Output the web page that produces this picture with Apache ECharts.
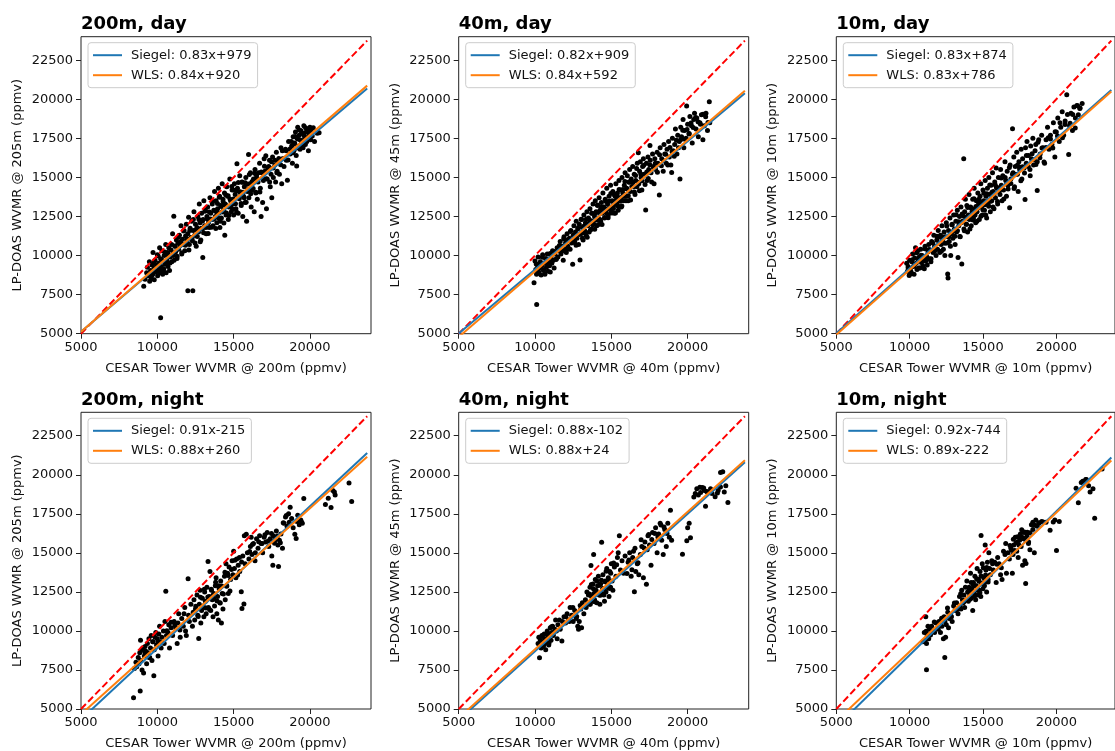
<!DOCTYPE html>
<html><head><meta charset="utf-8">
<script src="https://cdn.jsdelivr.net/npm/echarts@6/dist/echarts.min.js"></script>
<style>html,body{margin:0;padding:0;background:#fff}#c{width:1115px;height:751px}</style>
</head><body><div id="c"></div><script>
const panelTitles = ['200m, day', '40m, day', '10m, day', '200m, night', '40m, night', '10m, night'];
const xNames = ['CESAR Tower WVMR @ 200m (ppmv)', 'CESAR Tower WVMR @ 40m (ppmv)', 'CESAR Tower WVMR @ 10m (ppmv)',
  'CESAR Tower WVMR @ 200m (ppmv)', 'CESAR Tower WVMR @ 40m (ppmv)', 'CESAR Tower WVMR @ 10m (ppmv)'];
const yNames = ['LP-DOAS WVMR @ 205m (ppmv)', 'LP-DOAS WVMR @ 45m (ppmv)', 'LP-DOAS WVMR @ 10m (ppmv)',
  'LP-DOAS WVMR @ 205m (ppmv)', 'LP-DOAS WVMR @ 45m (ppmv)', 'LP-DOAS WVMR @ 10m (ppmv)'];
const siegelSlope = [0.83, 0.82, 0.83, 0.91, 0.88, 0.92];
const siegelIntercept = [979, 909, 874, -215, -102, -744];
const wlsSlope = [0.84, 0.84, 0.83, 0.88, 0.88, 0.89];
const wlsIntercept = [920, 592, 786, 260, 24, -222];
const xTicks = [5000, 10000, 15000, 20000];
const yTicks = [5000, 7500, 10000, 12500, 15000, 17500, 20000, 22500];
const axisMin = 5000, axisMax = 24000, lineEnd = 23750;

const day200 = [[9110,8040],[9200,8480],[9300,8900],[9350,9250],[9420,8700],[9480,9600],[9500,8350],[9560,9050],[9600,8550],[9650,9400],[9700,8800],[9720,10200],[9780,9150],[9800,8450],[9850,9700],[9900,8950],[9950,9350],[10000,10050],[10020,8700],[10080,9500],[10100,9100],[10150,10500],[10180,8900],[10220,9800],[10250,9300],[10300,10300],[10350,8800],[10380,9650],[10420,9150],[10450,10000],[10500,9450],[10550,10700],[10580,8900],[10620,9700],[10680,10200],[10700,9300],[10750,10500],[10800,9050],[10850,9900],[10900,10350],[10950,9600],[11000,11400],[11020,10100],[11080,12510],[11100,9700],[11150,10600],[11200,10250],[11250,11000],[11300,9950],[11350,10800],
[10217,6021],[12000,7745],[12326,7745],
[11400,10400],[11450,11300],[11500,10650],[11550,11900],[11600,10100],[11650,11050],[11700,10700],[11750,11600],[11800,10300],[11850,11250],[11900,12000],[11950,10900],[12000,11400],[12050,12450],[12100,10700],[12150,11750],[12200,11150],[12250,12200],[12300,10950],[12350,11600],[12400,12800],[12450,11300],[12500,12000],[12550,10600],[12600,11800],[12650,12500],[12700,11500],[12750,13300],[12800,12100],[12850,11000],[12900,12700],[12950,11700],[12978,9870],[13000,12300],[13050,13500],[13100,11900],[13150,12900],[13200,11400],[13250,12500],[13300,13100],[13350,12100],[13400,11800],[13450,13700],[13500,12700],
[13550,12300],[13600,13300],[13650,11900],[13700,12900],[13750,14100],[13800,12500],[13850,13500],[13900,12100],[13950,13000],[14000,14300],[14020,12700],[14080,13800],[14100,11800],[14150,13200],[14200,12400],[14250,14600],[14300,13600],[14350,12900],[14400,14000],[14420,11300],[14450,13300],[14500,12600],[14550,14400],[14600,13800],[14650,12300],[14700,13100],[14750,14900],[14800,13500],[14850,12800],[14900,14200],[14950,13300],[15000,12600],[15050,14600],[15100,13900],[15150,13000],[15217,15870],[15250,14300],[15300,12700],[15350,13700],[15400,15100],[15450,14000],[15500,13200],[15550,14700],[15600,12500],[15650,13800],[15700,14400],[15750,13400],[15800,15000],[15850,12200],[15900,14100],[15978,16468],[16000,13700],
[16050,14600],[16100,15300],[16150,13100],[16200,14200],[16300,14900],[16350,12800],[16400,15500],[16450,14000],[16500,15100],[16550,13600],[16600,14700],[16700,15900],[16750,14300],[16800,12500],[16850,15300],[16900,13400],[16950,14800],[17000,16200],[17050,15400],[17109,16380],[17150,13000],[17200,14900],[17300,15700],[17350,16100],[17400,14400],[17450,15200],[17500,13700],[17550,16300],[17600,15000],[17700,15800],[17750,14700],[17800,16600],[17850,15400],[17900,16000],[18000,15200],[18100,16900],[18150,14600],[18200,16200],[18300,15700],[18400,16800],[18450,16100],[18522,14809],[18600,17300],[18700,16500],[18800,17000],[18850,15900],
[18900,17600],[18950,16700],[19000,17200],[19050,17900],[19100,16400],[19130,15723],[19150,17500],[19200,18200],[19250,17000],[19300,17700],[19350,16800],[19400,18000],[19450,17300],[19500,17800],[19550,16900],[19600,18300],[19650,17500],[19700,17100],[19750,17900],[19800,17300],[19850,18100],[19900,16700],[19950,17600],[20000,18200],[20050,17400],[20100,17900],[20217,18170],[20300,17300],[20478,17830],[20600,17850]];
const day200b = [[11530,10905],[11610,10172],[11720,11565],[11840,10666],[11960,11066],[12070,10359],[12130,11609],[12280,11135],[12360,12302],[12470,10795],[12540,11654],[12620,11221],[12730,12313],[12810,10880],[12880,11739],[12960,12206],[13030,11465],[13120,12841],[13180,11791],[13260,12358],[13330,11417],[13410,12784],[13480,12343],[13560,11810],[13620,13461],[13690,12320],[13760,12878],[13830,11737],[13880,12779],[13940,13330],[14010,12388],[14060,13730],[14130,12189],[14180,13131],[14240,12782],[14310,13440],[14360,12082],[14430,13241],[14480,13883],[14530,12725],[14590,13176],[14640,13818],[14690,12560],[14760,13618],[14810,13160],[14880,14419],[14930,12961],[14990,13612],[15060,14170],[15120,13321],[15190,12780],[15240,14122],[15310,14680],[15370,13631],[15430,14081],[15490,13332],[15560,14690],[15620,14041],[15690,13700],[15760,14658],[15820,13409],[15890,14568],[15960,14226],[16030,15185],[16120,13961],[16210,14736],[16280,14295],[16370,15271],[16460,14046],[16540,14914],[16630,15289],[16720,14065],[16810,15340],[16920,14933],[17020,15717],[17130,14909],[17240,15602],[17360,14702],[17480,16003],[17590,15596],[17710,16096],[17830,15297],[17960,16206],[18080,15807],[18190,16700],[18320,16209],[18440,16710],[18570,16119],[18690,16820],[18780,17295],[18870,16571],[18960,17146],[19040,17614],[19120,16881],[19210,17456],[19290,18024],[19370,17391],[19460,17866],[19540,17034],[19620,17701],[19710,18176],[19780,17535],[19870,18011],[19960,17786],[20060,17970],[20150,17646],
[9640,8718],[9760,9518],[9880,9019],[10060,9970],[10170,9063],[10270,9747],[10390,9048],[10490,10232],[10610,9532],[10720,10025],[10830,9517],[10940,10710],[11060,10010],[11170,10603],[11290,9804],[11390,11188]];

const day40 = [[9935,8262],[10109,6876],[10000,9650],[10050,9100],[10100,8800],[10150,9400],[10200,9900],[10250,8950],[10300,9200],[10350,9600],[10400,8750],[10450,9350],[10500,10050],[10550,9050],[10600,9500],[10650,8800],[10700,9800],[10750,9250],[10800,10100],[10850,9000],[10900,9600],[10950,9350],[11000,8950],[11050,9900],[11100,9500],[11150,10300],[11200,9700],[11250,9200],[11300,10100],[11400,9800],[11450,10500],[11500,9900],[11550,10300],[11650,10900],[11700,10100],[11800,10600],[11850,9700],[11900,11200],[11950,10400],[12000,10800],[12050,10200],[12100,11400],[12150,10600],[12250,11100],[12300,10400],[12350,11600],[12400,10800],[12467,9435],[12500,11300],[12550,11900],[12600,10900],[12650,11500],[12700,12200],[12750,11100],[12800,11700],[12850,10700],[12900,12000],[12948,9712],[13000,11400],[13050,12300],[13100,11800],[13150,11000],[13200,12600],[13250,11600],[13300,12100],[13350,11300],[13400,12800],[13450,11900],[13500,12400],[13550,11500],[13600,13000],[13650,12200],[13700,11700],[13750,12700],[13800,13300],[13850,12000],[13900,12500],[13950,13500],[14000,12800],[14050,11900],[14100,13200],[14150,12400],[14200,13700],[14250,12900],[14300,12200],[14350,13400],[14400,12700],[14450,14000],[14500,13100],[14550,12400],[14600,13600],[14650,12900],[14700,14300],[14750,13300],[14800,12600],[14850,13800],[14900,13100],[14950,14500],[15000,12800],[15050,13500],[15100,14100],[15150,13200],[15200,12700],[15250,13800],[15300,14600],[15350,13300],[15400,14000],[15450,12900],[15500,14800],[15550,13600],[15600,14200],[15650,13100],[15700,15000],[15750,14000],[15800,13500],[15850,14500],[15900,15300],[15950,13800],[16000,14300],[16050,15100],[16100,13500],[16150,14700],[16200,15500],[16250,14100],[16300,14900],[16400,15700],[16450,14400],[16500,15200],[16550,13900],[16600,14800],[16659,15576],[16700,15900],[16768,16578],[16800,14600],[16850,15400],[16900,16000],[16950,15000],[17000,14200],[17050,15700],[17100,16200],[17150,15200],[17249,12910],[17300,15900],[17350,14800],[17400,16300],[17450,15500],[17531,17047],[17550,16100],[17600,15300],[17700,16500],[17750,15700],[17800,14600],[17850,16200],[17900,15500],[18000,16600],[18050,15900],[18144,13870],[18200,16900],[18300,16200],[18400,15400],[18450,17100],[18500,16500],[18600,15900],[18650,16800],[18750,17300],[18800,16300],[18900,15800],[18952,15320],[19000,17500],[19050,16700],[19150,17100],[19200,18100],[19300,16500],[19350,17700],[19450,17300],[19498,14893],[19550,18200],[19600,17600],[19700,18700],[19750,16900],[19800,18000],[19900,17500],[19935,19563],[20000,18400],[20100,17800],[20150,18900],[20250,18300],[20300,17200],[20400,18700],[20450,19100],[20550,18100],[20600,18800],[20700,17600],[20800,18500],[20900,19000],[21000,17400],[21100,18300],[21200,19100],[21300,18000],[21419,19840],[21450,18500]];
const day40b = [[12020,10989],[12180,10423],[12320,11541],[12440,10842],[12580,11159],[12690,10652],[12820,11761],[12930,11353],[13020,12329],[13110,11104],[13190,11872],[13270,11439],[13360,12314],[13420,11165],[13490,12024],[13570,12291],[13630,11641],[13710,12708],[13780,11967],[13840,12218],[13910,11676],[13970,12727],[14030,12277],[14090,13228],[14160,11986],[14220,12737],[14280,12287],[14330,13129],[14390,11980],[14460,12838],[14520,13089],[14570,12431],[14630,13481],[14680,12723],[14740,12974],[14790,12416],[14860,13474],[14920,13025],[14970,13967],[15030,12717],[15080,13459],[15140,13010],[15210,13868],[15270,12719],[15320,13561],[15380,13811],[15440,13162],[15510,14220],[15570,13471],[15630,13721],[15690,13172],[15760,14230],[15830,13789],[15890,14740],[15960,13498],[16030,14257],[16110,13824],[16180,14683],[16260,13550],[16340,14418],[16420,14685],[16510,14060],[16590,15128],[16680,14403],[16760,14670],[16840,14138],[16930,15213],[17020,14789],[17120,15773],[17210,14548],[17320,15341],[17420,14925],[17520,15809],[17640,14710],[17760,15610],[17880,15911],[18020,15329],[18160,16446],[18280,15747],[18420,16065],[18560,16482],[18700,15800],[18840,16918],[18980,16635],[19120,16353],[19260,17370],[19400,16888],[19540,17406],[19680,18023],[19820,17441],[19960,18058],[20090,17768],[20220,18477],[20360,18194],[20520,18829],[20680,18563],[20840,18398],[21010,19040],[21180,18883],[21330,18509],
[10080,9459],[10210,8868],[10330,9369],[10480,9895],[10590,9088],[10720,9797],[10860,9514],[10990,10124],[11120,9633],[11270,10259],[11380,9751],[11600,10636],[11760,10270],[11880,11071]];

const day10 = [[9800,9500],[9850,9000],[9900,9300],[9967,8731],[10000,9700],[10050,9150],[10100,8950],[10150,9600],[10200,10100],[10250,9300],[10300,8800],[10350,9850],[10400,10500],[10450,9500],[10500,9100],[10550,10300],[10600,9700],[10650,9900],[10700,9200],[10750,10400],[10800,9550],[10850,10000],[10900,9350],[10950,9800],[11000,9150],[11050,10600],[11100,9650],[11150,9950],[11200,9400],[11250,10250],[11300,10700],[11350,9800],[11400,10350],[11450,9600],[11500,10900],[11600,10200],[11650,11300],[11700,10600],[11800,10000],[11850,11000],[11900,10400],[11950,11600],[12000,10800],[12050,10200],[12100,11300],[12150,10700],[12200,11900],[12250,11000],[12300,10400],[12350,11500],[12400,10000],[12450,11200],[12500,12100],[12550,10800],[12593,8817],[12615,8561],[12650,11600],[12700,10900],[12750,12400],[12800,10000],[12850,11400],[12900,12000],[12950,11100],[13000,12600],[13050,11700],[13100,10700],[13150,12200],[13200,11500],[13250,12900],[13300,9880],[13350,11900],[13400,12500],[13450,11200],[13500,13100],[13556,9456],[13600,12200],[13687,16194],[13700,11700],[13750,12800],[13800,13600],[13850,12000],[13900,13200],[13950,11500],[14000,12600],[14050,13900],[14100,12300],[14150,13100],[14200,11900],[14250,12800],[14300,13600],[14350,12400],[14400,14300],[14450,13000],[14500,12100],[14550,13500],[14600,12800],[14650,14000],[14700,13300],[14750,12300],[14800,13800],[14850,14600],[14900,13100],[14950,12600],[15000,14200],[15050,13500],[15100,12900],[15150,14800],[15200,13800],[15250,12400],[15300,14300],[15350,13300],[15400,15000],[15450,13900],[15500,12800],[15550,14500],[15600,13500],[15650,15300],[15700,14100],[15750,13000],[15800,14700],[15850,13700],[15900,15600],[15950,14300],[16000,13300],[16050,15000],[16100,14100],[16200,15500],[16250,14500],[16300,13500],[16350,15100],[16400,14200],[16500,16000],[16550,14800],[16600,13800],[16650,15400],[16700,14500],[16816,13060],[16850,15800],[16900,14900],[17013,18113],[17050,15300],[17100,16300],[17150,14400],[17200,15700],[17300,16600],[17350,15200],[17400,14100],[17450,16000],[17500,15500],[17600,16800],[17650,14900],[17700,16200],[17800,15600],[17867,13593],[17900,16900],[17950,15900],[18000,17300],[18100,16400],[18200,15500],[18250,17000],[18300,16200],[18400,17500],[18450,15800],[18550,16700],[18600,17100],[18698,14168],[18700,16000],[18800,17400],[18900,16500],[19000,17700],[19100,16900],[19200,15900],[19300,17400],[19400,18200],[19500,16800],[19600,17700],[19700,17100],[19800,18500],[19900,16300],[20000,17900],[20100,18800],[20200,17300],[20300,18200],[20400,19200],[20500,17700],[20600,18600],[20711,20288],[20842,16470],[20900,18300],[21000,19100],[21100,18000],[21200,19500],[21300,18800],[21400,19600],[21500,19000],[21600,19400],[21760,19733]];
const day10b = [[12040,11179],[12160,10279],[12290,11187],[12410,10786],[12530,11886],[12660,11194],[12780,10593],[12880,11976],[12990,11568],[13080,11242],[13170,12617],[13260,11592],[13340,12158],[13420,11225],[13510,12099],[13580,12657],[13660,12524],[13730,11582],[13810,12448],[13880,12006],[13960,13073],[14030,12331],[14110,11697],[14180,13055],[14260,12622],[14320,12272],[14390,13630],[14460,12588],[14520,13138],[14590,12196],[14660,13054],[14720,13604],[14790,13462],[14860,12520],[14930,13378],[14990,12928],[15060,13986],[15130,13244],[15190,12594],[15260,13952],[15330,13510],[15390,13160],[15460,14518],[15530,13476],[15610,14042],[15680,13100],[15760,13967],[15830,14525],[15910,14391],[15990,13458],[16070,14324],[16160,13899],[16240,14965],[16330,14240],[16420,13615],[16510,14989],[16610,14572],[16710,14255],[16800,15630],[16900,14613],[17010,15204],[17120,14296],[17230,15187],[17340,15778],[17460,15678],[17580,14777],[17700,15677],[17830,15285],[17960,16393],[18090,15701],[18220,15109],[18350,16517],[18480,16124],[18610,15832],[18750,17249],[18880,16256],[19020,16873],[19160,15989],[19300,16905],[19450,17530],[19600,17454],[19760,16887],[19920,17920],[20080,17652],[20250,18494],[20420,17535],[20590,18376],[20760,19017],[20940,18466],[21120,19016],[21290,18157],[21450,19590],[21620,19432],
[9900,9203],[10040,8819],[10180,9735],[10320,9352],[10480,10184],[10620,9201],[10770,10025],[10900,9633],[11030,10441],[11180,9765],[11320,10382],[11460,9798],[11580,10797],[11720,10314],[11860,11230]];

const night200 = [[8442,5725],[8878,6151],[9771,7132],[8500,7600],[8600,8000],[8650,7700],[8750,8300],[8800,7900],[8850,8600],[8900,9400],[8920,8100],[8950,8800],[9000,7500],[9050,8900],[9100,7300],[9150,8400],[9200,9000],[9250,8700],[9300,7900],[9350,9200],[9400,8600],[9450,9500],[9500,8300],[9550,8900],[9600,9700],[9650,8100],[9700,9300],[9800,8800],[9850,9600],[9900,9900],[9950,9100],[10000,9500],[10050,8400],[10100,9800],[10150,10300],[10200,9300],[10250,8900],[10300,9600],[10400,10000],[10450,9200],[10500,10600],[10556,12548],[10600,9700],[10700,9900],[10750,10400],[10800,8900],[10900,10200],[11000,9700],[11100,10600],[11200,10200],[11300,9200],[11350,10500],[11400,11100],[11500,9600],[11600,10800],[11700,10300],[11800,11500],[11850,10000],[11900,9700],[12015,13337],[12050,11000],[12100,10600],[12200,11700],[12300,10300],[12350,11200],[12400,12000],[12450,10700],[12500,11400],[12600,12300],[12650,11000],[12712,9520],[12750,11700],[12800,12600],[12850,10500],[12900,11300],[12950,12100],[13000,11600],[13050,10900],[13100,12500],[13150,11900],[13200,11100],[13250,12800],[13322,14446],[13350,11500],[13400,12200],[13450,13800],[13500,11300],[13550,12600],[13600,12000],[13650,10900],[13700,12400],[13750,11600],[13800,12900],[13850,13400],[13900,11100],[13950,12200],[14000,10700],[14050,12700],[14100,11800],[14150,13200],[14200,10500],[14250,12400],[14300,11400],[14400,13500],[14450,12000],[14500,14300],[14550,12900],[14600,13700],[14650,12400],[14700,14100],[14800,13300],[14900,14500],[14950,13600],[15000,15100],[15050,14000],[15150,13400],[15200,14600],[15300,14200],[15400,13800],[15501,12505],[15545,11440],[15600,14800],[15675,11716],[15700,16100],[15750,14300],[15828,16194],[15900,15000],[16000,14600],[16100,15400],[16150,16000],[16200,14900],[16300,15600],[16400,14500],[16500,15900],[16600,15300],[16700,16100],[16800,15600],[16900,15000],[17000,16000],[17100,15700],[17200,16300],[17300,15400],[17400,15900],[17500,14800],[17571,14211],[17600,16100],[17700,15800],[17800,16400],[17900,15500],[17941,14126],[18000,15800],[18100,16200],[18200,15300],[18300,16900],[18400,17300],[18500,16700],[18600,17500],[18704,17921],[18800,17200],[18900,16600],[19009,16194],[19096,15917],[19200,17400],[19300,16800],[19400,17100],[19500,16900],[19597,18475],[21013,18092],[21200,18500],[21383,17900],[21500,19000],[21601,18900],[21650,18700],[22560,19478],[22734,18284]];
const night200b = [[12520,11578],[12680,10918],[12830,12150],[12960,11465],[13080,12670],[13190,11467],[13310,12173],[13420,11370],[13530,12666],[13640,12263],[13730,12042],[13820,13122],[13920,11910],[14020,12898],[14120,11786],[14220,12874],[14330,12370],[14430,13758],[14540,12855],[14640,13543],[14760,12549],[14860,13937],[15080,14530],[15260,13589],[15380,14694],[15520,14418],[16050,15084],[16230,15542],[16420,15010],[16640,15703],[16860,15597],[17050,16164],[17270,15758],[17480,16242],[17680,15618],[17870,16086],[18060,15653],[18250,16920],[18450,17396],[18640,16963],[19150,17012],[19450,16976],[9180,8638],[9470,8294],[9720,9314],[10050,9304],[10320,9242],[10620,10006],[10900,10552],[11150,10372],[11480,10062],[11750,11100]];

const night40 = [[10295,8284],[10200,9200],[10250,9600],[10300,9000],[10350,9400],[10400,8900],[10450,9700],[10500,9300],[10550,9000],[10600,9800],[10650,9500],[10700,8800],[10750,9300],[10800,10000],[10850,9600],[10900,9100],[10950,9800],[11000,10200],[11050,9400],[11100,9900],[11150,10300],[11200,9700],[11300,10100],[11350,10700],[11400,10000],[11450,9500],[11500,10400],[11600,10700],[11650,10100],[11761,9350],[11800,10600],[11900,10900],[12000,10500],[12100,11100],[12200,10700],[12300,11500],[12400,11000],[12500,10600],[12600,11300],[12700,10800],[12800,10300],[12850,10100],[12900,10600],[13000,11400],[13050,10200],[13100,11800],[13200,11100],[13300,12000],[13350,11500],[13400,12500],[13450,11800],[13500,12300],[13550,11700],[13600,12800],[13665,14190],[13700,12200],[13750,11900],[13800,13000],[13840,14893],[13850,12400],[13900,12000],[13950,13300],[14000,12600],[14050,11800],[14100,12900],[14150,13500],[14200,12300],[14250,11700],[14300,13000],[14365,15682],[14400,12400],[14450,13600],[14500,12700],[14550,11900],[14600,13200],[14650,12500],[14700,14000],[14750,12900],[14800,13400],[14850,12200],[14900,13800],[14950,12800],[15000,14300],[15050,13200],[15100,12600],[15200,14100],[15300,13500],[15400,14700],[15450,15000],[15525,16087],[15600,13900],[15700,14500],[15800,13700],[15900,14800],[16028,13678],[16100,14400],[16200,15000],[16300,13500],[16400,14700],[16450,15100],[16510,12505],[16600,13800],[16700,14300],[16800,13600],[16900,14900],[17000,15400],[17100,13400],[17200,15700],[17298,12996],[17350,15200],[17400,16100],[17500,15500],[17600,14200],[17700,16300],[17800,15600],[17900,16600],[18000,15000],[18100,16200],[18200,16900],[18300,15800],[18400,14900],[18500,16500],[18600,15400],[18700,16900],[18800,16000],[18873,17730],[18950,15800],[19661,14915],[19945,15768],[20000,16600],[20100,16900],[20186,15960],[20405,18582],[20500,18800],[20600,19100],[20700,18700],[20800,19200],[20952,19180],[21100,19000],[21170,17985],[21300,18900],[21500,19100],[21600,18800],[21800,18600],[22000,19000],[22155,20138],[22300,20200],[22400,18900],[22500,19300],[22637,18220]];
const night40b = [[13560,12357],[13620,11710],[13690,12971],[13760,12133],[13830,12694],[13910,11865],[13980,12526],[14060,13197],[14130,12358],[14210,12929],[14280,12290],[14350,13252],[14430,12722],[14510,12293],[14580,13154],[14660,13825],[14730,12786],[14810,13257],[14880,12718],[14960,13689],[12020,10902],[12250,10604],[12480,11506],[12730,10926],[12960,11629],[15150,14356],[15350,14232],[16150,14536],[16350,13912],[16550,15288],[16750,14364],[16950,15840],[17150,15316],[17450,16180],[17650,15856],[17850,16232],[18050,16008],[18250,16784],[18450,16660],[18650,16236],[10480,9646],[10620,9170],[10780,9810],[10920,9234],[11080,10274],[11240,9915],[20850,18872],[21050,19148],[21250,18924],[21950,18840],[22150,19216]];

const night10 = [[11149,7516],[12396,8305],[10900,9300],[11000,9900],[11050,9400],[11100,10900],[11150,9200],[11200,9700],[11250,10300],[11300,9500],[11350,10100],[11400,9800],[11500,10300],[11600,10000],[11700,9900],[11800,10500],[11900,10200],[12000,10600],[12100,9900],[12200,10300],[12300,9500],[12350,10900],[12400,10600],[12450,9600],[12500,10400],[12600,11200],[12650,10200],[12700,10800],[12800,11000],[12900,10600],[13000,11600],[13100,11300],[13200,11800],[13300,11100],[13400,12200],[13450,11600],[13500,11400],[13550,12600],[13600,12000],[13650,11800],[13700,12300],[13750,11500],[13800,12800],[13850,12000],[13900,13200],[13950,12500],[14000,11900],[14050,12800],[14100,12300],[14150,13700],[14200,12100],[14250,12700],[14300,11300],[14350,13100],[14400,12400],[14450,13500],[14500,12000],[14550,12900],[14600,14000],[14650,12300],[14700,13300],[14750,12600],[14800,13800],[14850,12200],[14869,16109],[14900,13000],[14950,14300],[15000,12700],[15050,13400],[15100,12900],[15150,15500],[15200,13900],[15250,12500],[15300,14400],[15350,13300],[15400,15000],[15450,14000],[15500,13600],[15600,14500],[15700,13900],[15800,14400],[15900,13100],[16000,14700],[16100,14300],[16200,13600],[16300,13300],[16400,15100],[16500,14900],[16550,15600],[16600,13700],[16700,15000],[16800,14600],[16900,15300],[17000,13700],[17050,14900],[17100,15500],[17200,16000],[17300,15100],[17350,15700],[17400,14700],[17500,15800],[17550,16200],[17600,15400],[17650,16000],[17700,14200],[17750,15900],[17800,16300],[17850,14500],[17910,13038],[17932,14318],[18000,16100],[18100,15600],[18200,15200],[18300,16800],[18400,16500],[18500,15000],[18600,17100],[18700,16700],[18800,16900],[19000,17000],[19574,16450],[19790,16983],[19900,17100],[20011,15149],[20200,17000],[21346,19136],[21500,18200],[21700,19500],[22000,19700],[22200,19300],[22300,18900],[22500,19100],[22615,17217],[23118,20373]];
const night10b = [[14020,12556],[14110,12036],[14190,13107],[14270,12478],[14340,12941],[14420,12212],[14490,12874],[14570,13345],[14640,12608],[14720,13179],[14790,12441],[14870,13512],[14940,13075],[15020,14046],[15100,13117],[15180,13588],[15260,14059],[15350,13140],[16840,15466],[16950,15164],[17070,15870],[17160,15150],[17260,15639],[17360,16028],[17450,15508],[17540,15989],[17640,16478],[17730,15958],[17820,16338],[17920,15827],[18020,16316],[18110,15696],[18210,16285],[18400,16954],[18520,16761],[18820,16928],[19100,16977],[19300,16955],[11120,9975],[11420,9742],[11680,10573],[11950,10114],[12180,10818],[12580,11474],[12850,10915],[13050,11793],[13250,11371],[13480,12375],[13680,11853],[15650,14307],[15950,14274],[16250,14041],[22050,19703],[21800,19580]];

const panelPoints = [day200.concat(day200b), day40.concat(day40b), day10.concat(day10b),
  night200.concat(night200b), night40.concat(night40b), night10.concat(night10b)];

const FONT = 'DejaVu Sans';
const colLeft = [81, 458.7, 836.3];
const rowTop = [36.7, 412.3];
const gW = 290, gH = 297;

function fmtLabel(prefix, a, b) {
  return prefix + ': ' + a.toFixed(2) + 'x' + (b >= 0 ? '+' : '') + b;
}

const grid = [], xAxis = [], yAxis = [], series = [], title = [], legend = [];
for (let i = 0; i < 6; i++) {
  const L = colLeft[i % 3], T = rowTop[Math.floor(i / 3)];
  grid.push({ left: L, top: T, width: gW, height: gH, show: true, borderColor: '#222', borderWidth: 1, backgroundColor: 'transparent' });
  title.push({ text: panelTitles[i], left: L, top: T - 21, padding: 0,
    textStyle: { fontFamily: FONT, fontSize: 18, fontWeight: 'bold', color: '#000' } });
  const axisCommon = {
    type: 'value', gridIndex: i, min: axisMin, max: axisMax,
    axisLine: { show: false }, splitLine: { show: false },
    nameLocation: 'middle',
    nameTextStyle: { fontFamily: FONT, fontSize: 13, color: '#111' }
  };
  xAxis.push(Object.assign({}, axisCommon, {
    name: xNames[i], nameGap: 28,
    axisTick: { show: true, length: 5, customValues: xTicks, lineStyle: { color: '#222' } },
    axisLabel: { customValues: xTicks, margin: 7, fontFamily: FONT, fontSize: 13, color: '#111', formatter: v => String(v) }
  }));
  yAxis.push(Object.assign({}, axisCommon, {
    name: yNames[i], nameGap: 57,
    axisTick: { show: true, length: 5, customValues: yTicks, lineStyle: { color: '#222' } },
    axisLabel: { customValues: yTicks, margin: 8, fontFamily: FONT, fontSize: 13, color: '#111', formatter: v => String(v) }
  }));
  const sName = fmtLabel('Siegel', siegelSlope[i], siegelIntercept[i]);
  const wName = fmtLabel('WLS', wlsSlope[i], wlsIntercept[i]);
  series.push({ type: 'scatter', xAxisIndex: i, yAxisIndex: i, data: panelPoints[i], symbolSize: 5,
    itemStyle: { color: '#000', opacity: 1 }, z: 2, silent: true });
  series.push({ type: 'line', name: '1:1 ' + i, xAxisIndex: i, yAxisIndex: i, symbol: 'none', clip: true, z: 3,
    data: [[axisMin, axisMin], [lineEnd, lineEnd]],
    lineStyle: { color: '#ff0000', width: 2, type: [7, 3.2] }, itemStyle: { color: '#ff0000' } });
  series.push({ type: 'line', name: sName, xAxisIndex: i, yAxisIndex: i, symbol: 'none', clip: true, z: 4,
    data: [[axisMin, siegelSlope[i] * axisMin + siegelIntercept[i]], [lineEnd, siegelSlope[i] * lineEnd + siegelIntercept[i]]],
    lineStyle: { color: '#1f77b4', width: 2 }, itemStyle: { color: '#1f77b4' } });
  series.push({ type: 'line', name: wName, xAxisIndex: i, yAxisIndex: i, symbol: 'none', clip: true, z: 5,
    data: [[axisMin, wlsSlope[i] * axisMin + wlsIntercept[i]], [lineEnd, wlsSlope[i] * lineEnd + wlsIntercept[i]]],
    lineStyle: { color: '#ff7f0e', width: 2 }, itemStyle: { color: '#ff7f0e' } });
  legend.push({ data: [sName, wName], orient: 'vertical', left: L + 7, top: T + 6,
    backgroundColor: 'rgba(255,255,255,0.85)', borderColor: '#cccccc', borderWidth: 1, borderRadius: 3,
    padding: [5, 6, 5, 5], itemGap: 5, itemWidth: 29, itemHeight: 2, icon: 'rect', selectedMode: false,
    textStyle: { fontFamily: FONT, fontSize: 13, color: '#111', padding: [0, 0, 0, 4], lineHeight: 15 } });
}

const chart = echarts.init(document.getElementById('c'), null, { renderer: 'canvas' });
chart.setOption({ animation: false, backgroundColor: '#fff', title, grid, xAxis, yAxis, series, legend });
</script></body></html>
